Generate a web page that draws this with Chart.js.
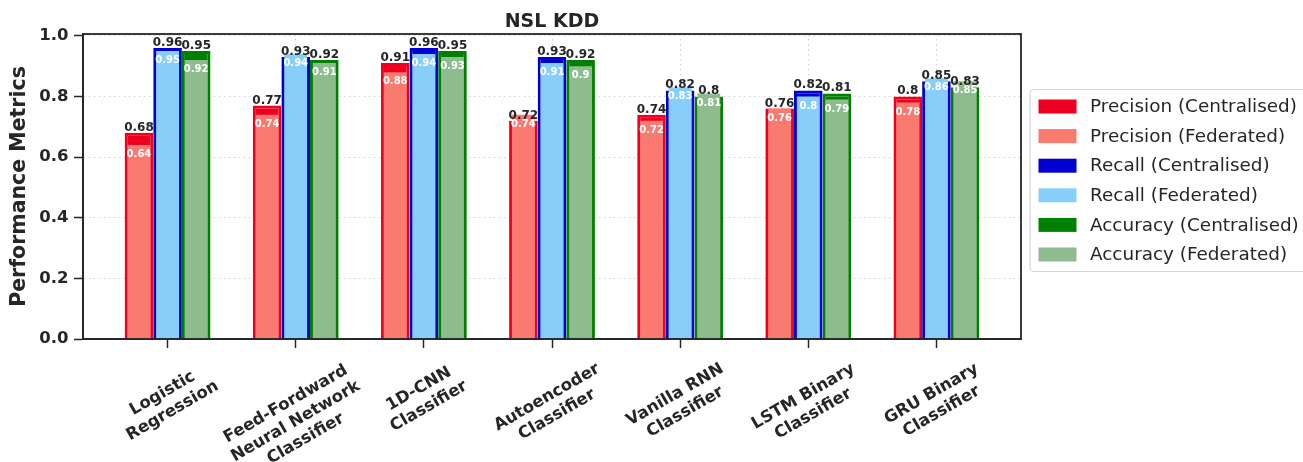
<!DOCTYPE html>
<html><head><meta charset="utf-8">
<script src="https://cdn.jsdelivr.net/npm/chart.js@4"></script>
<style>html,body{margin:0;padding:0;background:#fff;}</style>
</head><body>
<canvas id="c" width="1303" height="462"></canvas>
<script>
// ---------- data ----------
const categories = [
  ["Logistic", "Regression"],
  ["Feed-Fordward", "Neural Network", "Classifier"],
  ["1D-CNN", "Classifier"],
  ["Autoencoder", "Classifier"],
  ["Vanilla RNN", "Classifier"],
  ["LSTM Binary", "Classifier"],
  ["GRU Binary", "Classifier"]
];
const precisionCentralised = [0.68, 0.77, 0.91, 0.72, 0.74, 0.76, 0.8];
const precisionFederated   = [0.64, 0.74, 0.88, 0.74, 0.72, 0.76, 0.78];
const recallCentralised    = [0.96, 0.93, 0.96, 0.93, 0.82, 0.82, 0.85];
const recallFederated      = [0.95, 0.94, 0.94, 0.91, 0.83, 0.8, 0.86];
const accuracyCentralised  = [0.95, 0.92, 0.95, 0.92, 0.8, 0.81, 0.83];
const accuracyFederated    = [0.92, 0.91, 0.93, 0.9, 0.81, 0.79, 0.85];
const yTicks = [0, 0.2, 0.4, 0.6, 0.8, 1.0];

// ---------- styles ----------
const FONT = "'DejaVu Sans', sans-serif";
const TEXT = '#262626';
const GRID = '#cfcfcf';
const CAT_PCT = 0.67;

function mk(label, values, stack, color, border, centralised, order) {
  return {
    label, stack, order,
    data: values.map((v, i) => ({x: i, y: v})),
    backgroundColor: color,
    borderColor: border,
    borderWidth: centralised ? 3 : 0,
    borderSkipped: 'start',
    categoryPercentage: CAT_PCT,
    barPercentage: centralised ? 1.0 : 0.8,
    centralised
  };
}

const datasets = [
  mk('Precision (Centralised)', precisionCentralised, 'P', '#f00020', '#f00020', true, 2),
  mk('Precision (Federated)',   precisionFederated,   'P', '#f97a6e', 'rgba(0,0,0,0)', false, 1),
  mk('Recall (Centralised)',    recallCentralised,    'R', '#0000d0', '#0000d0', true, 2),
  mk('Recall (Federated)',      recallFederated,      'R', '#87cefa', 'rgba(0,0,0,0)', false, 1),
  mk('Accuracy (Centralised)',  accuracyCentralised,  'A', '#008000', '#008000', true, 2),
  mk('Accuracy (Federated)',    accuracyFederated,    'A', '#8fbc8f', 'rgba(0,0,0,0)', false, 1)
];

const frameAndLabels = {
  id: 'frameAndLabels',
  afterDatasetsDraw(chart) {
    const {ctx, chartArea: a} = chart;
    ctx.save();
    ctx.textAlign = 'center';
    chart.data.datasets.forEach((ds, di) => {
      if (!ds.centralised) return;
      chart.getDatasetMeta(di).data.forEach((bar, i) => {
        ctx.font = `bold 12px ${FONT}`;
        ctx.fillStyle = TEXT;
        ctx.textBaseline = 'alphabetic';
        ctx.fillText(String(ds.data[i].y), bar.x, bar.y - 2);
      });
    });
    chart.data.datasets.forEach((ds, di) => {
      if (ds.centralised) return;
      chart.getDatasetMeta(di).data.forEach((bar, i) => {
        ctx.font = `bold 10px ${FONT}`;
        ctx.fillStyle = '#ffffff';
        ctx.textBaseline = 'top';
        ctx.fillText(String(ds.data[i].y), bar.x, bar.y + 4.5);
      });
    });
    ctx.strokeStyle = TEXT;
    ctx.lineWidth = 1.8;
    ctx.strokeRect(a.left, a.top, a.right - a.left, a.bottom - a.top);
    ctx.restore();
  },
  afterDraw(chart) {
    const {ctx, chartArea: a, scales: {x}} = chart;
    ctx.save();
    const ang = 30 * Math.PI / 180;
    const LH = 20;
    ctx.font = `bold 16.5px ${FONT}`;
    ctx.fillStyle = TEXT;
    ctx.textAlign = 'center';
    ctx.textBaseline = 'middle';
    categories.forEach((lines, i) => {
      const W = Math.max(...lines.map(l => ctx.measureText(l).width));
      const H = lines.length * LH;
      const hRot = W * Math.sin(ang) + H * Math.cos(ang);
      const cx = x.getPixelForValue(i);
      const cy = a.bottom + 20 + hRot / 2;
      ctx.save();
      ctx.translate(cx, cy);
      ctx.rotate(-ang);
      lines.forEach((l, j) => ctx.fillText(l, 0, (j - (lines.length - 1) / 2) * LH));
      ctx.restore();
    });
    // legend
    const lx = 1030, ly = 89.5, lw = 300, lh = 182;
    ctx.beginPath();
    ctx.roundRect(lx, ly, lw, lh, 4);
    ctx.fillStyle = '#ffffff';
    ctx.fill();
    ctx.strokeStyle = '#d6d6d6';
    ctx.lineWidth = 1.2;
    ctx.stroke();
    ctx.font = `18.4px ${FONT}`;
    ctx.textAlign = 'left';
    ctx.textBaseline = 'middle';
    chart.data.datasets.forEach((ds, i) => {
      const y = 106.5 + i * 29.6;
      ctx.fillStyle = ds.backgroundColor;
      ctx.fillRect(1038.5, y - 7, 38, 14);
      ctx.fillStyle = TEXT;
      ctx.fillText(ds.label, 1090, y + 1);
    });
    ctx.restore();
  }
};

new Chart(document.getElementById('c'), {
  type: 'bar',
  data: {datasets},
  plugins: [frameAndLabels],
  options: {
    responsive: false,
    devicePixelRatio: 1,
    animation: false,
    events: [],
    layout: {padding: {left: 0, right: 282, top: 0, bottom: 0}},
    plugins: {
      legend: {display: false},
      tooltip: {enabled: false},
      title: {
        display: true, text: 'NSL KDD', fullSize: false,
        font: {family: FONT, size: 19, weight: 'bold'}, color: TEXT,
        padding: {top: 10.5, bottom: 0.7}
      }
    },
    scales: {
      x: {
        type: 'linear', offset: false,
        min: -0.66, max: 6.66,
        afterBuildTicks: s => { s.ticks = categories.map((_, i) => ({value: i})); },
        afterFit: s => { s.height = 123; },
        ticks: {display: false},
        grid: {offset: false, color: GRID, lineWidth: 1, tickLength: 9, tickColor: TEXT, tickWidth: 1.5},
        border: {display: true, color: TEXT, width: 1.8, dash: [1.5, 3.5]}
      },
      y: {
        type: 'linear', stacked: false,
        min: 0, max: 1.006,
        afterBuildTicks: s => { s.ticks = yTicks.map(v => ({value: v})); },
        afterFit: s => { s.width = 83; },
        ticks: {
          callback: v => Number(v).toFixed(1),
          font: {family: FONT, size: 16.5, weight: 'bold'}, color: TEXT, padding: 5.5
        },
        grid: {color: GRID, lineWidth: 1, tickLength: 9, tickColor: TEXT, tickWidth: 1.5},
        border: {display: true, color: TEXT, width: 1.8, dash: [1.5, 3.5]},
        title: {
          display: true, text: 'Performance Metrics',
          font: {family: FONT, size: 20.5, weight: 'bold'}, color: TEXT,
          padding: {top: 7.5, bottom: 0}
        }
      }
    }
  }
});
</script>
</body></html>
